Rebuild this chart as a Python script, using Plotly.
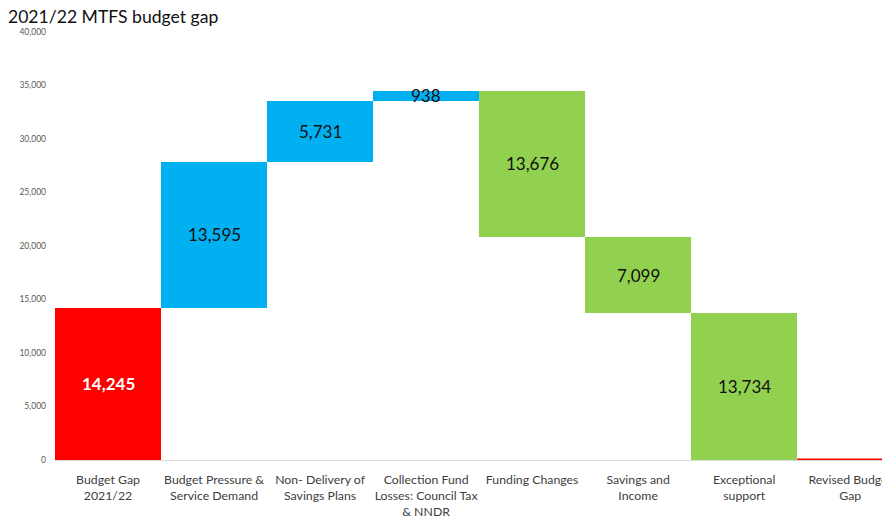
import plotly.graph_objects as go

# Budget gap bridge, £000s
categories = [
    "Budget Gap<br>2021/22",
    "Budget Pressure &<br>Service Demand",
    "Non- Delivery of<br>Savings Plans",
    "Collection Fund<br>Losses: Council Tax<br>& NNDR",
    "Funding Changes",
    "Savings and<br>Income",
    "Exceptional<br>support",
    "Revised Budget<br>Gap",
]
values = [14245, 13595, 5731, 938, -13676, -7099, -13734, 0]
measures = ["absolute", "relative", "relative", "relative",
            "relative", "relative", "relative", "total"]

RED = "#FF0000"
BLUE = "#00B0F0"
GREEN = "#92D050"
FONT = "Lato"

xs = list(range(len(categories)))

fig = go.Figure()
fig.add_trace(go.Waterfall(
    x=xs,
    y=values,
    measure=measures,
    textposition="none",
    increasing=dict(marker=dict(color=BLUE)),
    decreasing=dict(marker=dict(color=GREEN)),
    totals=dict(marker=dict(color=RED)),
    connector=dict(visible=False),
    hoverinfo="skip",
))

# running totals -> value labels centred in each bar
running = 0
for i, (v, m) in enumerate(zip(values, measures)):
    if m == "absolute":
        lo, hi = 0, v
        running = v
    elif m == "relative":
        lo, hi = running, running + v
        running += v
    else:
        # a total of zero has no height: show it as a red outline on its level
        fig.add_shape(
            type="line", xref="x", yref="y",
            x0=i - 0.5, x1=i + 0.5, y0=running, y1=running,
            line=dict(color=RED, width=3), layer="above",
        )
        continue
    first = i == 0
    fig.add_annotation(
        x=i, y=(lo + hi) / 2, text=f"{abs(v):,}", showarrow=False,
        font=dict(family=FONT, size=17,
                  color="white" if first else "#111111"),
        xanchor="center", yanchor="middle",
    )
    if first:
        fig.layout.annotations[-1].font.weight = "bold"

fig.update_layout(
    width=882, height=518,
    margin=dict(l=55, r=0, t=32, b=58, autoexpand=False),
    paper_bgcolor="white", plot_bgcolor="white",
    showlegend=False,
    waterfallgap=0,
    title=dict(text="2021/22 MTFS budget gap", x=0.009, xanchor="left",
               y=0.968, yanchor="middle",
               font=dict(family=FONT, size=17.6, color="#111111")),
    font=dict(family=FONT),
)
fig.update_xaxes(
    tickmode="array", tickvals=xs, ticktext=categories,
    range=[-0.5, 7.3], tickangle=0, showgrid=False, zeroline=False,
    showline=True, linecolor="#D9D9D9", linewidth=1, automargin=False,
    layer="below traces",
    ticklabelstandoff=8, ticklabeloverflow="allow",
    tickfont=dict(family=FONT, size=12.3, color="#404040"),
)
fig.update_yaxes(
    range=[0, 40000], dtick=5000, tickformat=",", showgrid=False,
    zeroline=False, showline=False, ticks="", ticklabelstandoff=8,
    automargin=False,
    tickfont=dict(family=FONT, size=8.5, color="#595959"),
)

fig.write_html("out.html")
